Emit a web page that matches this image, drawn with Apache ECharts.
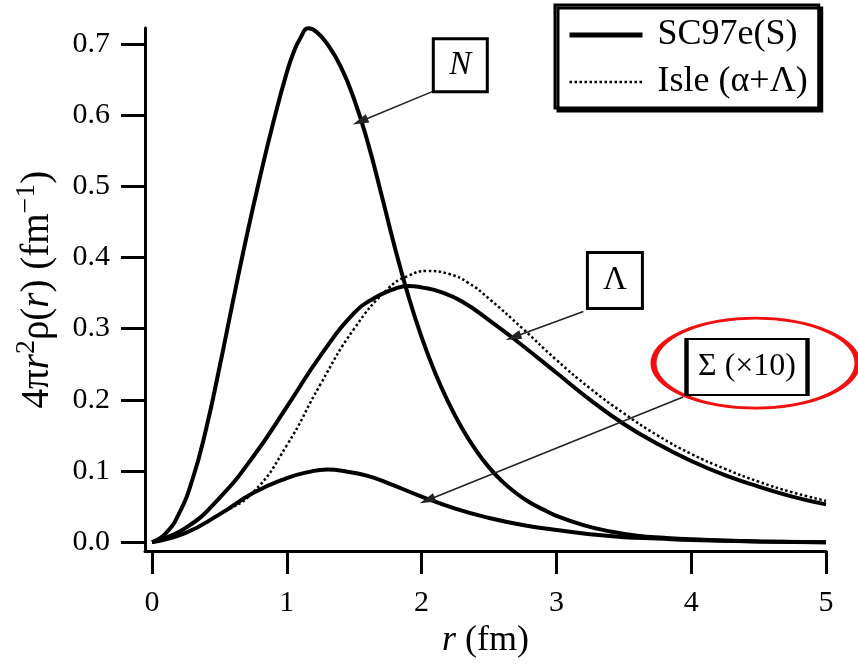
<!DOCTYPE html>
<html>
<head>
<meta charset="utf-8">
<script src="https://cdn.jsdelivr.net/npm/echarts@6/dist/echarts.min.js"></script>
<style>
html,body{margin:0;padding:0;background:#fff;}
#c{width:858px;height:664px;}
</style>
</head>
<body>
<div id="c"></div>
<script>
// ---- data ----
const xTicks = [0, 1, 2, 3, 4, 5];
const yTicks = [0, 0.1, 0.2, 0.3, 0.4, 0.5, 0.6, 0.7];

const xN = [0,0.1,0.2,0.3,0.4,0.5,0.6,0.7,0.8,0.9,1.0,1.05,1.1,1.16,1.22,1.3,1.4,1.5,1.6,1.7,1.8,1.9,2.0,2.1,2.2,2.3,2.4,2.5,2.6,2.7,2.8,2.9,3.0,3.2,3.4,3.6,3.8,4.0,4.5,5.0];
const yN = [0,0.012,0.04,0.088,0.158,0.245,0.338,0.428,0.512,0.59,0.66,0.688,0.708,0.722,0.717,0.70,0.668,0.622,0.562,0.49,0.415,0.347,0.288,0.238,0.196,0.16,0.13,0.105,0.085,0.069,0.056,0.046,0.037,0.024,0.015,0.009,0.006,0.004,0.001,0];

const xL = [0,0.25,0.5,0.75,1.0,1.25,1.5,1.65,1.8,1.9,2.0,2.15,2.3,2.5,2.75,3.0,3.25,3.5,3.75,4.0,4.25,4.5,4.75,5.0];
const yL = [0,0.02,0.062,0.12,0.19,0.262,0.322,0.343,0.356,0.36,0.358,0.351,0.338,0.312,0.276,0.238,0.2,0.166,0.138,0.114,0.094,0.078,0.064,0.053];

const xS = [0,0.25,0.5,0.75,1.0,1.15,1.3,1.45,1.6,1.75,2.0,2.25,2.5,2.75,3.0,3.25,3.5,3.75,4.0,4.5,5.0];
const yS = [0,0.013,0.039,0.069,0.09,0.098,0.102,0.099,0.093,0.083,0.064,0.047,0.034,0.024,0.017,0.011,0.007,0.005,0.003,0.001,0];

const xI = [0,0.25,0.5,0.75,1.0,1.25,1.5,1.75,1.9,2.04,2.2,2.35,2.5,2.75,3.0,3.25,3.5,3.75,4.0,4.25,4.5,4.75,5.0];
const yI = [0,0.013,0.039,0.07,0.136,0.222,0.30,0.356,0.374,0.381,0.377,0.364,0.342,0.3,0.256,0.216,0.181,0.15,0.124,0.103,0.085,0.07,0.058];

const seriesNames = ['SC97e(S)', 'Isle (α+Λ)'];

// annotation labels (anchored in data coordinates)
const annoText = ['N', 'Λ', 'Σ (×10)'];
const annoCenter = [[2.287, 0.670], [3.434, 0.3675], [4.414, 0.246]];
// arrows: [from, to] in data coordinates
const arrowFrom = [[2.079, 0.633], [3.20, 0.324], [3.94, 0.204]];
const arrowTo = [[1.544, 0.591], [2.68, 0.288], [2.042, 0.0587]];
// highlight ellipse centre
const ellipseCenter = [4.477, 0.2515];

const pairs = (xs, ys) => xs.map((x, i) => [x, ys[i]]);

const FONT = '"Liberation Serif", "Times New Roman", serif';
const boxSize = [[54, 53], [55, 56], [121, 56]];

const chart = echarts.init(document.getElementById('c'), null, {renderer: 'canvas'});

const markPointData = [
  {
    coord: ellipseCenter, symbol: 'circle', symbolSize: [204, 90],
    itemStyle: {color: 'rgba(0,0,0,0)', borderColor: '#f01010', borderWidth: 4},
    label: {show: false}
  }
].concat(annoText.map((t, i) => ({
  coord: annoCenter[i], name: t, symbol: 'rect', symbolSize: boxSize[i],
  itemStyle: {color: '#fff', borderColor: '#000', borderWidth: 3},
  label: {
    show: true, position: 'inside', formatter: t, color: '#000',
    fontFamily: FONT, fontSize: i === 2 ? 32 : 33, fontStyle: i === 0 ? 'italic' : 'normal'
  }
})));

const lineBase = {
  type: 'line', smooth: 0.5, showSymbol: false, symbol: 'none', silent: true,
  animation: false
};

const option = {
  animation: false,
  backgroundColor: '#fff',
  grid: {left: 145, right: 32, top: 28, bottom: 110, containLabel: false},
  legend: {
    left: 555, top: 5, orient: 'vertical',
    padding: [10, 11, 6, 12],
    itemWidth: 73, itemHeight: 20, itemGap: 7,
    backgroundColor: '#fff', borderColor: '#000', borderWidth: 3,
    shadowColor: '#000', shadowOffsetX: 3, shadowOffsetY: 3, shadowBlur: 0,
    selectedMode: false,
    textStyle: {fontFamily: FONT, fontSize: 36, color: '#000', lineHeight: 40, padding: [0, 0, 0, 10]},
    data: [
      {name: seriesNames[0], itemStyle: {opacity: 0}, lineStyle: {width: 5, color: '#000', type: 'solid'}},
      {name: seriesNames[1], itemStyle: {opacity: 0}, lineStyle: {width: 2.5, color: '#000', type: 'dotted'}}
    ]
  },
  xAxis: {
    type: 'value', min: -0.052, max: 5,
    name: '{i|r}{a| (fm)}', nameLocation: 'middle', nameGap: 66,
    nameTextStyle: {
      rich: {
        i: {fontFamily: FONT, fontStyle: 'italic', fontSize: 36, color: '#000'},
        a: {fontFamily: FONT, fontSize: 36, color: '#000'}
      }
    },
    axisLine: {onZero: false, lineStyle: {color: '#000', width: 3}},
    axisTick: {show: true, customValues: xTicks, length: 23, lineStyle: {color: '#000', width: 3}},
    axisLabel: {customValues: xTicks, margin: 37, fontFamily: FONT, fontSize: 30, color: '#000'},
    splitLine: {show: false}
  },
  yAxis: {
    type: 'value', min: -0.0126, max: 0.7224,
    name: '{a|4π}{i|r}{s|2}{a|ρ(}{i|r}{a|) (fm}{s|−1}{a|)}',
    nameLocation: 'middle', nameGap: 82,
    nameTextStyle: {
      rich: {
        a: {fontFamily: FONT, fontSize: 39, color: '#000', lineHeight: 50},
        i: {fontFamily: FONT, fontStyle: 'italic', fontSize: 39, color: '#000', lineHeight: 50},
        s: {fontFamily: FONT, fontSize: 28, color: '#000', verticalAlign: 'top', lineHeight: 28}
      }
    },
    axisLine: {onZero: false, lineStyle: {color: '#000', width: 3}},
    axisTick: {show: true, customValues: yTicks, length: 24, lineStyle: {color: '#000', width: 3}},
    axisLabel: {
      customValues: yTicks, margin: 35, fontFamily: FONT, fontSize: 30, color: '#000',
      formatter: v => v.toFixed(1)
    },
    splitLine: {show: false}
  },
  series: [
    Object.assign({}, lineBase, {
      name: seriesNames[0], data: pairs(xN, yN),
      lineStyle: {color: '#000', width: 4}, z: 3
    }),
    Object.assign({}, lineBase, {
      name: seriesNames[0], data: pairs(xL, yL),
      lineStyle: {color: '#000', width: 4}, z: 3
    }),
    Object.assign({}, lineBase, {
      name: seriesNames[0], data: pairs(xS, yS),
      lineStyle: {color: '#000', width: 4}, z: 3,
      markLine: {
        silent: true, animation: false,
        symbol: ['none', 'triangle'], symbolSize: [9, 16],
        lineStyle: {color: '#222', width: 1.6, type: 'solid'},
        itemStyle: {color: '#000'},
        label: {show: false},
        emphasis: {disabled: true},
        data: arrowFrom.map((f, i) => [{coord: f}, {coord: arrowTo[i]}])
      },
      markPoint: {
        silent: true, animation: false,
        emphasis: {disabled: true},
        data: markPointData
      }
    }),
    Object.assign({}, lineBase, {
      name: seriesNames[1], data: pairs(xI, yI),
      lineStyle: {color: '#000', width: 2.5, type: 'dotted'}, z: 2
    })
  ]
};

chart.setOption(option);
</script>
</body>
</html>
